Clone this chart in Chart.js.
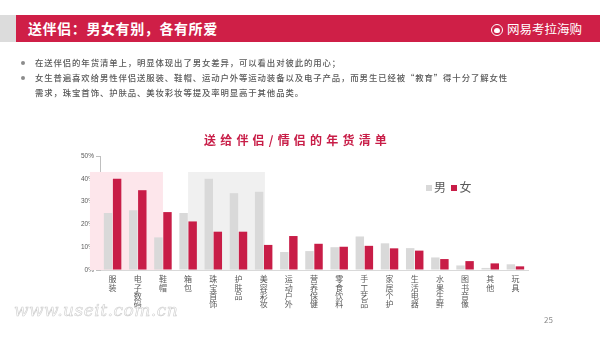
<!DOCTYPE html>
<html>
<head>
<meta charset="utf-8">
<script src="https://cdn.jsdelivr.net/npm/chart.js@4"></script>
<style>
  body { margin: 0; background: #fff; font-family: "Noto Sans CJK SC", sans-serif; }
  #page { position: relative; width: 600px; height: 337px; overflow: hidden; }
  .abs { position: absolute; white-space: nowrap; }
  #greyTab { left: 0; top: 15px; width: 16px; height: 27px; background: #dcdcdc; }
  #redBar { left: 16px; top: 15px; width: 584px; height: 27px; background: #cf1f47; }
  #title { left: 28px; top: 15px; line-height: 27px; color: #fff; font-size: 14px; font-weight: bold; letter-spacing: 0.6px; }
  #logo { left: 491px; top: 15px; line-height: 27px; color: #fff; font-size: 12.5px; }
  #logo .ic { display: inline-block; width: 10px; height: 10px; border: 1.5px solid #fff; border-radius: 50%; vertical-align: -2px; margin-right: 4px; position: relative; }
  #logo .ic:after { content: ""; position: absolute; left: 2px; top: 3px; width: 6px; height: 5px; background: #fff; border-radius: 3px 3px 2px 2px; }
  .txt { left: 35px; color: #595959; font-size: 8.4px; letter-spacing: 0.9px; line-height: 15px; font-weight: 500; }
  .dot { width: 4px; height: 4px; border-radius: 50%; background: #8c8c8c; }
  #chartTitle { left: 204px; top: 131px; color: #c81d47; font-size: 12px; font-weight: bold; letter-spacing: 4.2px; }
  #legend { left: 426px; top: 178px; font-size: 12px; color: #595959; }
  #legend i { display: inline-block; width: 6px; height: 6px; margin-right: 2px; vertical-align: 1px; }
  #pageNo { left: 544px; top: 314px; font-size: 8px; color: #8c8c8c; }
  #mark { left: 14px; top: 300px; font-size: 17px; font-style: italic; color: #fff; -webkit-text-stroke: 0.6px #cfcfcf; font-family: "DejaVu Serif", serif; letter-spacing: 0.5px; }
  canvas { position: absolute; left: 0; top: 0; }
</style>
</head>
<body>
<div id="page">
  <canvas id="chart" width="600" height="337"></canvas>
  <div class="abs" id="greyTab"></div>
  <div class="abs" id="redBar"></div>
  <div class="abs" id="title">送伴侣：男女有别，各有所爱</div>
  <div class="abs" id="logo"><span class="ic"></span>网易考拉海购</div>

  <div class="abs dot" style="left:21px;top:61px"></div>
  <div class="abs txt" style="top:55px">在送伴侣的年货清单上，明显体现出了男女差异，可以看出对彼此的用心；</div>
  <div class="abs dot" style="left:21px;top:76px"></div>
  <div class="abs txt" style="top:70px">女生普遍喜欢给男性伴侣送服装、鞋帽、运动户外等运动装备以及电子产品，而男生已经被“教育”得十分了解女性<br>需求，珠宝首饰、护肤品、美妆彩妆等提及率明显高于其他品类。</div>

  <div class="abs" id="chartTitle">送给伴侣/情侣的年货清单</div>
  <div class="abs" id="legend"><i style="background:#d9d9d9"></i>男&nbsp;&nbsp;<i style="background:#c81d47"></i>女</div>
  <div class="abs" id="mark">www.useit.com.cn</div>
  <div class="abs" id="pageNo">25</div>
</div>
<script>
// 品类
var categories = ['服装', '电子数码', '鞋帽', '箱包', '珠宝首饰', '护肤品', '美容彩妆', '运动户外',
    '营养保健', '零食饮料', '手工艺品', '家居个护', '生活电器', '水果生鲜', '图书音像', '其他', '玩具'];
// 提及率 (%)
var male = [25, 26.2, 14.3, 25, 40, 33.7, 34.3, 7.9, 8.3, 10, 14.7, 11.7, 9.6, 5.5, 2, 0.9, 2.5];
var female = [40, 35, 25.4, 21.3, 16.8, 16.8, 11, 14.9, 11.5, 10.2, 10.6, 9.5, 8.5, 4.8, 3.9, 2.9, 1.6];
var yTicks = [0, 10, 20, 30, 40, 50];

// background boxes behind groups of categories
var boxes = [
    { from: -0.9, to: 2.0, top: 43, color: '#fde6eb' },
    { from: 3.0, to: 6.05, top: 43, color: '#f0f0f0' }
];

var boxPlugin = {
    id: 'boxes',
    beforeDatasetsDraw: function (chart) {
        var ctx = chart.ctx, x = chart.scales.x, y = chart.scales.y;
        ctx.save();
        boxes.forEach(function (b) {
            var x1 = x.getPixelForValue(b.from), x2 = x.getPixelForValue(b.to);
            var y1 = y.getPixelForValue(b.top), y2 = y.getPixelForValue(0);
            ctx.fillStyle = b.color;
            ctx.fillRect(x1, y1, x2 - x1, y2 - y1);
        });
        ctx.restore();
    }
};

var ctx = document.getElementById('chart').getContext('2d');
var chart = new Chart(ctx, {
    type: 'bar',
    data: {
        labels: categories.map(function (c) { return c.split(''); }),
        datasets: [
            { label: '男', data: male, backgroundColor: '#d9d9d9' },
            { label: '女', data: female, backgroundColor: '#c81d47' }
        ]
    },
    options: {
        responsive: false,
        animation: false,
        layout: { padding: { left: 70, right: 72, top: 156, bottom: 0 } },
        datasets: { bar: { categoryPercentage: 0.72, barPercentage: 0.93 } },
        plugins: { legend: { display: false }, tooltip: { enabled: false } },
        scales: {
            x: {
                afterFit: function (s) { s.height = 67; },
                grid: { display: false, drawTicks: false },
                border: { color: '#d9d9d9' },
                ticks: {
                    autoSkip: false, maxRotation: 0, minRotation: 0, padding: 5,
                    color: '#595959',
                    font: { family: 'Noto Sans CJK SC', size: 8, lineHeight: 1.05 }
                }
            },
            y: {
                min: 0, max: 50,
                afterFit: function (s) { s.width = 30; },
                afterBuildTicks: function (s) { s.ticks = yTicks.map(function (v) { return { value: v }; }); },
                grid: { drawOnChartArea: false, tickLength: 4, color: '#bfbfbf' },
                border: { color: '#bfbfbf' },
                ticks: {
                    padding: 2, color: '#595959',
                    font: { family: 'Liberation Sans', size: 6.5 },
                    callback: function (v) { return v + '%'; }
                }
            }
        }
    },
    plugins: [boxPlugin]
});
</script>
</body>
</html>
